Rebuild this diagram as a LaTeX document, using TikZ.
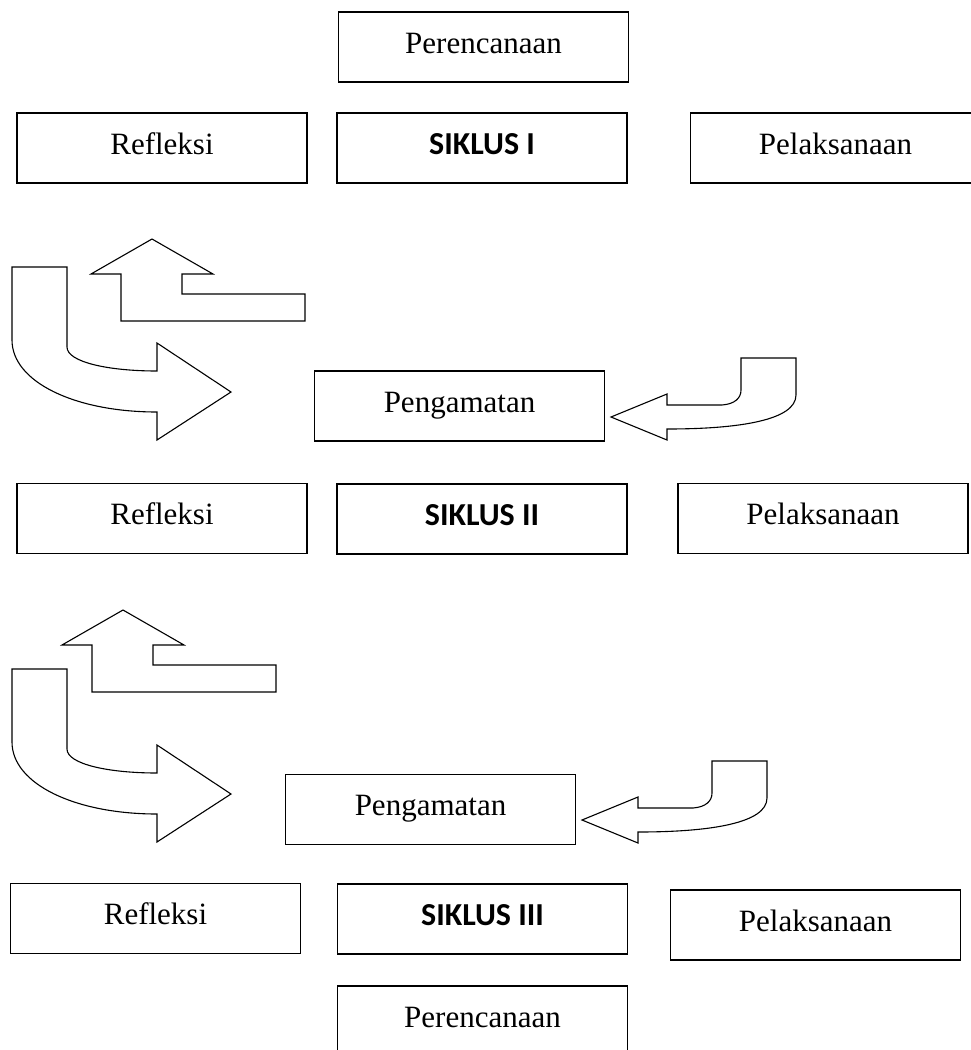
\documentclass[tikz,border=0pt]{standalone}
\usepackage{fontspec}
\setmainfont{Liberation Serif}
\newfontfamily\calibri{Carlito}
\usepackage{tikz}
\usetikzlibrary{positioning,calc}

\begin{document}
\begin{tikzpicture}[x=1pt,y=-1pt,
    box/.style={draw,line width=1.5pt,minimum width=290pt,minimum height=70pt,inner sep=0pt,
      text height=21pt,text depth=9pt,font=\fontsize{31}{36}\selectfont},
    siklus/.style={box,font=\calibri\bfseries\fontsize{32}{36}\selectfont},
    blockarrow/.style={draw,line width=1.1pt,line join=miter}]
      \useasboundingbox (0,0) rectangle (971,1050);

      % siklus I
      \node[box] (plan1) at (483.5,47) {Perencanaan};
      \node[box] (refl1) at (162,148) {Refleksi};
      \node[siklus] (siklus1) at (482,148) {SIKLUS I};
      \node[box] (pelak1) at (835.5,148) {Pelaksanaan};
      \node[box] (amat1) at (459.5,406) {Pengamatan};

      % siklus II
      \node[box] (refl2) at (162,518.5) {Refleksi};
      \node[siklus] (siklus2) at (482,519) {SIKLUS II};
      \node[box] (pelak2) at (823,518.5) {Pelaksanaan};
      \node[box] (amat2) at (430.5,809.5) {Pengamatan};

      % siklus III
      \node[box] (refl3) at (155.5,918.5) {Refleksi};
      \node[siklus] (siklus3) at (482.5,919) {SIKLUS III};
      \node[box] (pelak3) at (815.5,925) {Pelaksanaan};
      \node[box] (plan3) at (482.5,1021) {Perencanaan};

      % block arrows, once per cycle
      \foreach \ux/\uy/\cy/\hx/\hy in {0/0/0/0/0, -29/371/402/-29/403} {
        \begin{scope}[shift={(\ux,\uy)}]
          \draw[blockarrow] (152,239) -- (213,274) -- (182,274) -- (182,294) -- (305,294)
            -- (305,321) -- (121,321) -- (121,274) -- (91,274) -- cycle;
        \end{scope}
        \begin{scope}[shift={(0,\cy)}]
          \draw[blockarrow] (12,267) -- (67,267) -- (67,347)
            .. controls (67,362) and (108,371) .. (157,371) -- (157,343) -- (231,392)
            -- (157,440) -- (157,412) .. controls (75,412) and (12,382) .. (12,340) -- cycle;
        \end{scope}
        \begin{scope}[shift={(\hx,\hy)}]
          \draw[blockarrow] (611,417) -- (667,394) -- (667,405) -- (722,405)
            .. controls (735,404) and (741,398) .. (741,390) -- (741,358) -- (796,358)
            -- (796,395) .. controls (796,420) and (740,429) .. (667,429) -- (667,440) -- cycle;
        \end{scope}
      }
\end{tikzpicture}
\end{document}
